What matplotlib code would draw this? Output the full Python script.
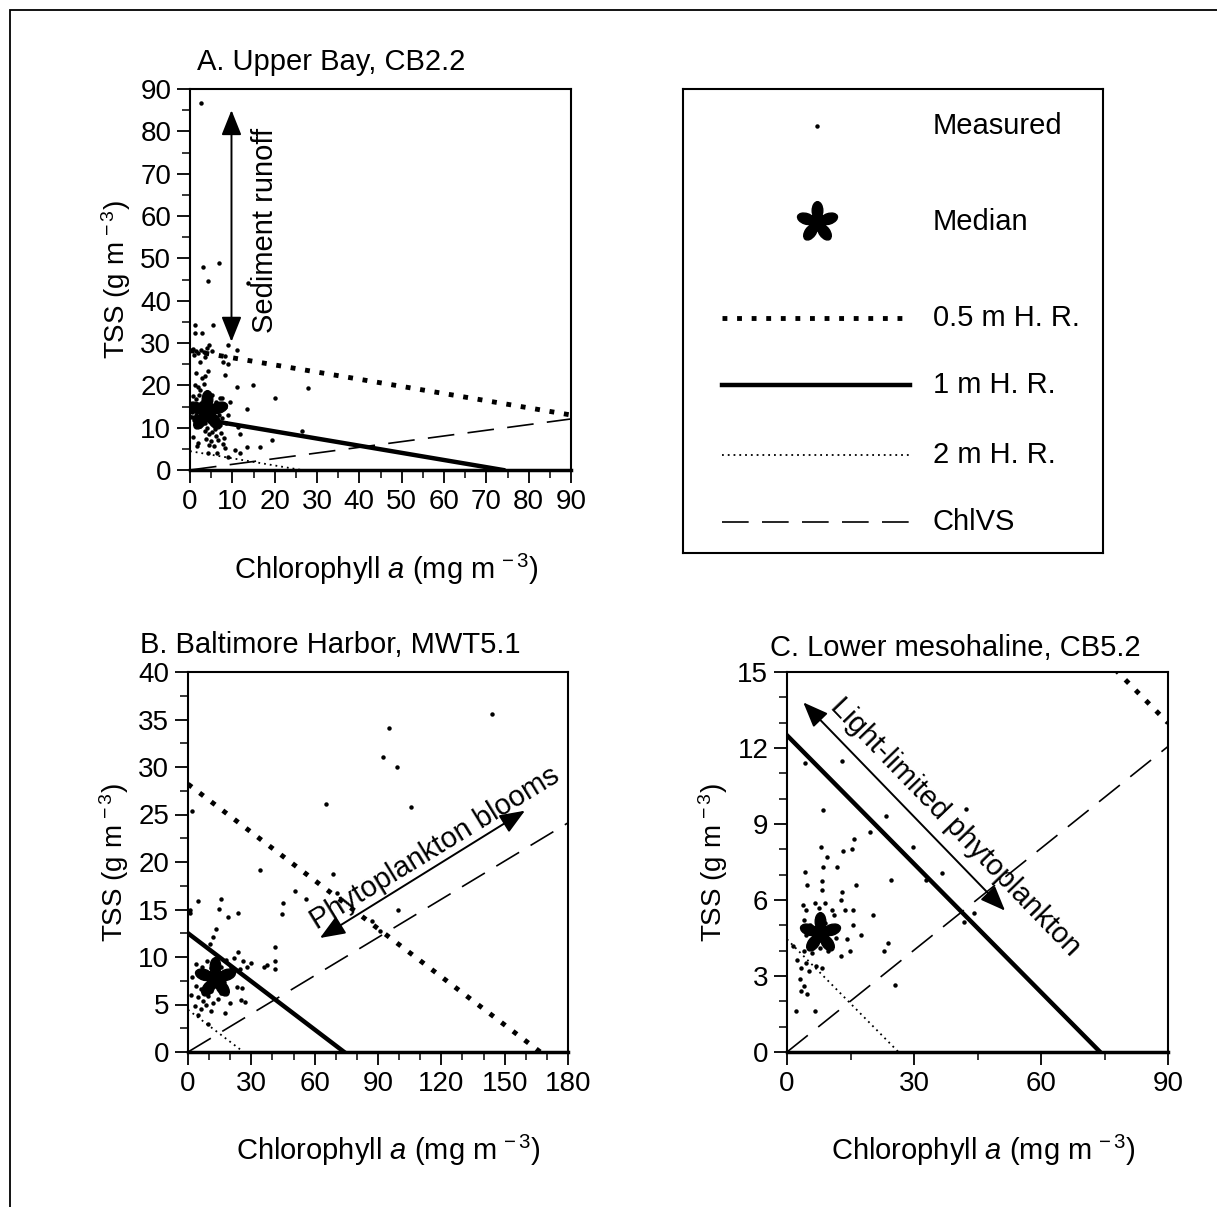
"""Chlorophyll a vs TSS at three Chesapeake stations, with light-limit model lines."""

import numpy as np
import matplotlib
matplotlib.use("Agg")
import matplotlib.pyplot as plt
from matplotlib.path import Path
from matplotlib.transforms import Affine2D
from matplotlib.patches import Rectangle
from matplotlib.ticker import MultipleLocator

plt.rcParams["font.family"] = "Liberation Sans"
plt.rcParams["mathtext.fontset"] = "custom"
plt.rcParams["mathtext.rm"] = "Liberation Sans"
plt.rcParams["mathtext.it"] = "Liberation Sans:italic"

# ---- measured points (chl a, TSS) ----
A_CHL = [2.5, 3.0, 4.3, 6.9, 13.8, 1.2, 5.4, 1.2, 2.8,
         0.8, 1.5, 2.0, 2.6, 3.2, 4.0, 4.6, 5.2, 1.0, 3.6,
         2.4, 9.0, 11.0, 8.3, 7.9, 9.0, 1.5, 3.5, 4.2, 8.3, 2.8,
         1.2, 2.4, 1.8, 3.4, 11.0, 14.9, 20.0, 27.9, 13.4,
         0.6, 1.4, 2.2, 3.0, 3.8, 4.6, 5.3, 6.1, 7.0, 7.5,
         0.9, 1.8, 2.6, 3.4, 4.2, 5.0, 5.8, 6.6, 7.4, 8.2, 9.4,
         0.5, 1.3, 2.1, 2.9, 3.7, 4.5, 5.2, 6.0, 6.8, 7.6, 9.0,
         1.0, 1.9, 2.7, 3.5, 4.4, 5.6, 6.4, 7.2, 8.4, 11.3, 2.3, 4.0, 5.9,
         3.5, 4.5, 5.3, 6.2, 7.4, 8.1, 3.8, 5.0, 6.6, 7.8, 4.4, 5.6, 8.3,
         1.6, 4.3, 6.4, 10.6, 11.8, 9.0, 13.4, 16.5, 19.3, 11.8, 26.4, 0.7, 2.0]
A_TSS = [86.8, 47.9, 44.6, 49.0, 44.2, 34.2, 34.2, 32.4, 32.3,
         28.6, 28.0, 27.6, 28.3, 27.8, 28.8, 29.5, 28.2, 27.2, 26.8,
         25.6, 29.5, 28.3, 26.9, 25.6, 25.0, 23.0, 22.3, 23.3, 22.5, 21.8,
         20.0, 19.0, 19.6, 20.4, 19.7, 20.1, 17.0, 19.3, 14.3,
         17.5, 16.8, 17.8, 16.2, 17.1, 16.5, 17.6, 16.0, 16.9, 17.0,
         15.4, 15.0, 15.8, 14.6, 15.2, 14.8, 15.5, 14.3, 15.1, 14.8, 16.1,
         13.6, 13.0, 13.8, 12.6, 13.3, 12.8, 13.6, 12.4, 13.1, 12.2, 13.0,
         11.8, 11.2, 12.0, 11.0, 11.6, 10.8, 11.4, 10.6, 11.2, 10.2, 10.4, 10.0, 9.8,
         9.2, 8.4, 9.0, 8.1, 8.8, 7.6, 7.4, 6.8, 7.0, 6.2, 6.0, 5.6, 5.2,
         5.7, 4.0, 4.0, 4.7, 4.0, 3.1, 5.5, 5.5, 7.1, 8.5, 9.1, 7.8, 6.4]

B_CHL = [143.8, 95.4, 92.5, 99.2, 65.4, 105.6, 1.7,
         68.9, 34.1, 50.7, 45.0, 44.4, 55.9, 70.4, 87.0, 91.0, 99.6,
         0.9, 0.9, 4.9, 15.6, 14.8, 18.8, 23.8, 13.1, 12.0, 10.4,
         23.8, 21.6, 26.2, 30.0, 28.0, 24.5, 36.0, 37.4, 41.2, 41.2, 41.2,
         4.0, 6.5, 8.8, 11.0, 13.5, 15.8, 18.0, 20.5, 5.2, 7.5, 9.8, 12.2,
         14.6, 16.9, 19.2, 3.6, 6.0, 8.3, 10.7, 13.0, 15.4, 17.8, 4.8, 7.2,
         9.5, 11.9, 14.2, 3.4, 6.2, 8.6, 11.0, 20.0, 4.8, 9.5, 17.5, 23.0,
         25.6, 25.0, 27.0, 1.5, 2.0]
B_TSS = [35.6, 34.1, 31.1, 30.0, 26.1, 25.8, 25.4,
         18.7, 19.2, 16.9, 15.7, 14.5, 16.1, 16.7, 13.8, 12.7, 15.0,
         15.0, 14.6, 15.9, 16.1, 15.1, 14.2, 14.6, 13.0, 12.1, 11.4,
         10.5, 9.9, 9.6, 9.4, 9.0, 8.7, 9.0, 9.2, 11.1, 9.6, 8.7,
         9.3, 9.0, 9.6, 8.8, 9.5, 8.9, 9.7, 9.0, 8.2, 7.8, 8.3, 7.6,
         8.0, 7.4, 8.1, 7.0, 6.6, 7.1, 6.4, 6.9, 6.2, 6.6, 5.8, 5.4,
         5.9, 5.2, 5.6, 4.8, 4.5, 4.9, 4.3, 5.2, 3.9, 3.0, 4.1, 6.8,
         6.7, 5.5, 5.3, 6.0, 7.9]

C_CHL = [4.25, 12.9, 8.6, 19.6, 23.4, 29.8, 42.4, 36.5, 32.8, 24.6, 8.0,
         15.8, 13.2, 15.3, 9.5, 4.25, 8.6, 11.7, 4.65, 8.2, 8.2, 16.3, 13.0,
         12.8, 20.4, 17.5, 23.8, 22.9, 25.5, 41.8, 44.2, 2.05, 6.6,
         3.8, 4.6, 6.5, 7.5, 8.9, 10.6, 13.7, 15.5, 11.1, 15.7, 14.1, 14.9,
         12.7, 2.3, 4.0, 5.5, 7.0, 9.0, 10.8, 4.5, 6.2, 8.6, 11.5, 3.9, 5.8,
         7.8, 9.8, 4.6, 6.8, 3.4, 5.2, 8.3, 3.0, 4.0, 4.7, 3.3, 1.4]
C_TSS = [11.4, 11.5, 9.55, 8.7, 9.3, 8.1, 9.6, 7.05, 6.8, 6.8, 8.1,
         8.4, 7.95, 8.0, 7.7, 7.1, 7.3, 7.3, 6.6, 6.4, 6.75, 6.6, 6.3,
         6.0, 5.4, 4.6, 4.3, 4.0, 2.65, 5.15, 5.5, 1.6, 1.6,
         5.8, 5.6, 5.9, 5.7, 5.9, 5.6, 5.6, 5.6, 5.4, 5.0, 4.45, 4.0,
         3.8, 3.65, 5.2, 5.0, 5.3, 5.1, 4.9, 4.6, 4.4, 4.6, 4.5, 4.0, 3.9,
         4.1, 4.0, 3.5, 3.4, 3.3, 3.2, 3.3, 2.9, 2.6, 2.3, 2.4, 4.2]

# medians (chl a, TSS)
MEDIAN_A = (4.0, 14.0)
MEDIAN_B = (13.0, 7.8)
MEDIAN_C = (7.8, 4.7)

# ---- model lines: TSS = intercept - slope * chl for each harmonic-mean depth ----
HR_LABELS = ["0.5 m H. R.", "1 m H. R.", "2 m H. R."]
HR_INTERCEPT = [28.2, 12.5, 4.45]
HR_SLOPE = 0.169
CHLVS_SLOPE = 0.134   # TSS attributable to chl a (ChlVS)

HR_STYLES = [
    dict(color="k", lw=3.5, ls=(0, (1, 2.0)), dash_capstyle="butt"),
    dict(color="k", lw=3.2, ls="-"),
    dict(color="k", lw=1.3, ls=(0, (1, 2.2)), dash_capstyle="butt"),
]
CHLVS_STYLE = dict(color="k", lw=1.2, ls=(0, (16, 8)))

W, H = 1217, 1207


def flower_marker():
    parts = []
    for ang in (18, 90, 162, 234, 306):
        tr = Affine2D().scale(0.42, 0.25).translate(0.56, 0).rotate_deg(ang)
        parts.append(tr.transform_path(Path.unit_circle()))
    parts.append(Affine2D().scale(0.22).transform_path(Path.unit_circle()))
    return Path.make_compound_path(*parts)


FLOWER = flower_marker()


def px_axes(left, top, right, bottom):
    return fig.add_axes([left / W, 1 - bottom / H, (right - left) / W, (bottom - top) / H])


def style_axes(ax, xmax, ymax, xmaj, xmin, ymaj, ymin):
    ax.set_xlim(0, xmax)
    ax.set_ylim(0, ymax)
    ax.xaxis.set_major_locator(MultipleLocator(xmaj))
    ax.xaxis.set_minor_locator(MultipleLocator(xmin))
    ax.yaxis.set_major_locator(MultipleLocator(ymaj))
    ax.yaxis.set_minor_locator(MultipleLocator(ymin))
    ax.tick_params(which="major", direction="out", length=9.5, width=1.3,
                   labelsize=20, pad=4)
    ax.tick_params(which="minor", direction="out", length=5.5, width=1.1)
    for s in ax.spines.values():
        s.set_linewidth(1.5)
    ax.spines["bottom"].set_linewidth(2.5)


def draw_panel(ax, chl, tss, median, xmax):
    for icpt, st in zip(HR_INTERCEPT, HR_STYLES):
        xs = np.array([0, min(icpt / HR_SLOPE, xmax)])
        ax.plot(xs, icpt - HR_SLOPE * xs, **st)
    xs = np.array([0, xmax])
    ax.plot(xs, CHLVS_SLOPE * xs, **CHLVS_STYLE)
    ax.plot(chl, tss, "o", color="k", ms=3.2, mew=0, ls="none")
    ax.plot(*median, marker=FLOWER, color="k", ms=30, ls="none")


def axis_labels(ax, xlab_xy, ylab_xy):
    ax.text(*xlab_xy, "Chlorophyll $\\mathit{a}$ (mg m$^{\\,-3}$)", transform=ax.transAxes,
            ha="center", va="center", fontsize=21)
    ax.text(*ylab_xy, "TSS (g m$^{\\,-3}$)", transform=ax.transAxes, rotation=90,
            ha="center", va="center", fontsize=20)


ARROW = dict(arrowstyle="<|-|>,head_length=0.55,head_width=0.22", color="k",
             lw=1.4, mutation_scale=28, shrinkA=0, shrinkB=0)

fig = plt.figure(figsize=(W / 100, H / 100), dpi=100)

# outer frame
fig.add_artist(Rectangle((10 / W, -0.1), 1.2, 1.1 - 10 / H, transform=fig.transFigure,
                         fill=False, ec="k", lw=1.3))

# ---- panel A ----
axA = px_axes(190, 89, 571, 470)
style_axes(axA, 90, 90, 10, 5, 10, 5)
draw_panel(axA, A_CHL, A_TSS, MEDIAN_A, 90)
axis_labels(axA, (0.514, -0.262), (-0.194, 0.5))
axA.annotate("", xy=(9.8, 85), xytext=(9.8, 30.3), arrowprops=ARROW)
axA.text(17.6, 56.7, "Sediment runoff", rotation=90, ha="center", va="center", fontsize=21)
fig.text(197 / W, 1 - 62 / H, "A. Upper Bay, CB2.2", ha="left", va="center", fontsize=21)

# ---- panel B ----
axB = px_axes(188, 672, 568, 1052)
style_axes(axB, 180, 40, 30, 10, 5, 2.5)
draw_panel(axB, B_CHL, B_TSS, MEDIAN_B, 180)
axis_labels(axB, (0.526, -0.258), (-0.194, 0.5))
axB.annotate("", xy=(159.6, 25.4), xytext=(62.5, 12.0), arrowprops=ARROW)
axB.text(117, 21.5, "Phytoplankton blooms", rotation=31.5, ha="center", va="center",
         fontsize=21, rotation_mode="anchor")
fig.text(140 / W, 1 - 645 / H, "B. Baltimore Harbor, MWT5.1", ha="left", va="center", fontsize=21)

# ---- panel C ----
axC = px_axes(787, 672, 1168, 1052)
style_axes(axC, 90, 15, 30, 15, 3, 1)
draw_panel(axC, C_CHL, C_TSS, MEDIAN_C, 90)
axis_labels(axC, (0.514, -0.258), (-0.194, 0.5))
axC.annotate("", xy=(51.5, 5.58), xytext=(3.85, 13.8), arrowprops=ARROW)
axC.text(39.7, 8.9, "Light-limited phytoplankton", rotation=-46, ha="center", va="center",
         fontsize=21, rotation_mode="anchor")
fig.text(770 / W, 1 - 648 / H, "C. Lower mesohaline, CB5.2", ha="left", va="center", fontsize=21)

# ---- key ----
lax = px_axes(683, 89, 1103, 553)
lax.set_xlim(0, 1)
lax.set_ylim(0, 1)
lax.set_xticks([])
lax.set_yticks([])
for s in lax.spines.values():
    s.set_linewidth(1.5)
key_y = [0.92, 0.713, 0.506, 0.362, 0.211, 0.067]
key_txt = ["Measured", "Median"] + HR_LABELS + ["ChlVS"]
lax.plot(0.319, key_y[0], "o", color="k", ms=3.2, mew=0)
lax.plot(0.319, key_y[1], marker=FLOWER, color="k", ms=30)
for y, st in zip(key_y[2:5], HR_STYLES):
    lax.plot([0.093, 0.54], [y, y], **st)
lax.plot([0.093, 0.54], [key_y[5]] * 2, **CHLVS_STYLE)
for y, t in zip(key_y, key_txt):
    lax.text(0.595, y, t, ha="left", va="center", fontsize=21)

fig.savefig("out.png", dpi=100)
